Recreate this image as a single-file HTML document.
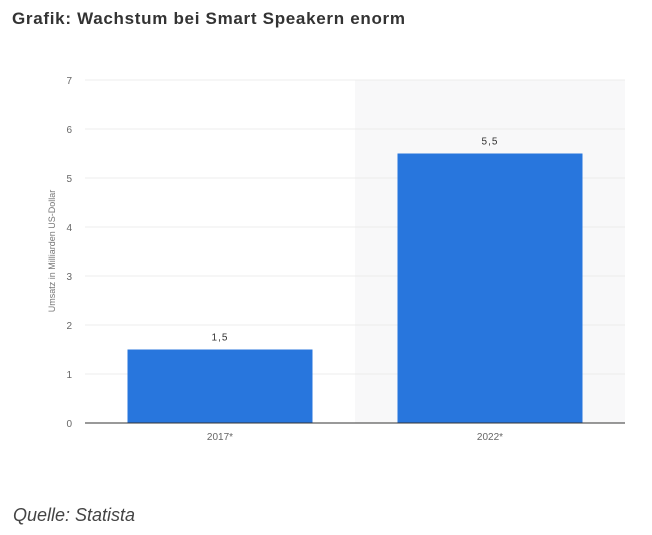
<!DOCTYPE html>
<html><head><meta charset="utf-8"><style>
body{margin:0;width:652px;height:535px;background:#fff;overflow:hidden;font-family:"Liberation Sans",sans-serif}
.t{position:absolute;left:12px;top:9px;font-size:17px;font-weight:bold;color:#333;letter-spacing:0.7px}
.q{position:absolute;left:13px;top:505px;font-size:18px;font-style:italic;color:#444}
</style></head><body>
<div class="t">Grafik: Wachstum bei Smart Speakern enorm</div>
<svg width="652" height="535" style="position:absolute;left:0;top:0" id="c"></svg>
<div class="q">Quelle: Statista</div>
<script>
const categories=["2017*","2022*"];
const values=[1.5,5.5];
const valueLabels=["1,5","5,5"];
const yTicks=[0,1,2,3,4,5,6,7];
const svg=document.getElementById('c');
const NS='http://www.w3.org/2000/svg';
const x0=85,x1=625,y0=423,pxu=49;
const y=v=>y0-v*pxu;
const bw=(x1-x0)/categories.length;
const xc=i=>x0+bw*(i+0.5);
function mk(tag,a,txt){const e=document.createElementNS(NS,tag);for(const k in a)e.setAttribute(k,a[k]);if(txt!==undefined)e.textContent=txt;svg.appendChild(e);return e;}
let s=mk('rect',{x:x0+bw,y:y(7),width:bw,height:y0-y(7),fill:'#f8f8f9'});


yTicks.forEach(v=>{
 let g=mk('line',{x1:x0,x2:x1,y1:y(v),y2:y(v),stroke:'#ececec','stroke-width':1});
 
 
 let t=mk('text',{x:72,y:y(v)+4,'text-anchor':'end','font-size':10,fill:'#666'},v);
 
 
});
let yt=mk('text',{transform:'translate(55,251) rotate(-90)','text-anchor':'middle','font-size':9,fill:'#777'},'Umsatz in Milliarden US-Dollar');


categories.forEach((c,i)=>{
 const w=185;
 let b=mk('rect',{x:xc(i)-w/2,y:y(values[i]),width:w,height:y0-y(values[i]),fill:'#2876dd'});
 
 
 let l=mk('text',{x:xc(i),y:y(values[i])-9,'text-anchor':'middle','font-size':10,fill:'#333','letter-spacing':'1'},valueLabels[i]);
 
 
 let xl=mk('text',{x:xc(i),y:y0+17,'text-anchor':'middle','font-size':10,fill:'#666'},c);
 
 
});
let ax=mk('line',{x1:x0,x2:x1,y1:y0,y2:y0,stroke:'#333','stroke-width':1});


</script>
</body></html>
